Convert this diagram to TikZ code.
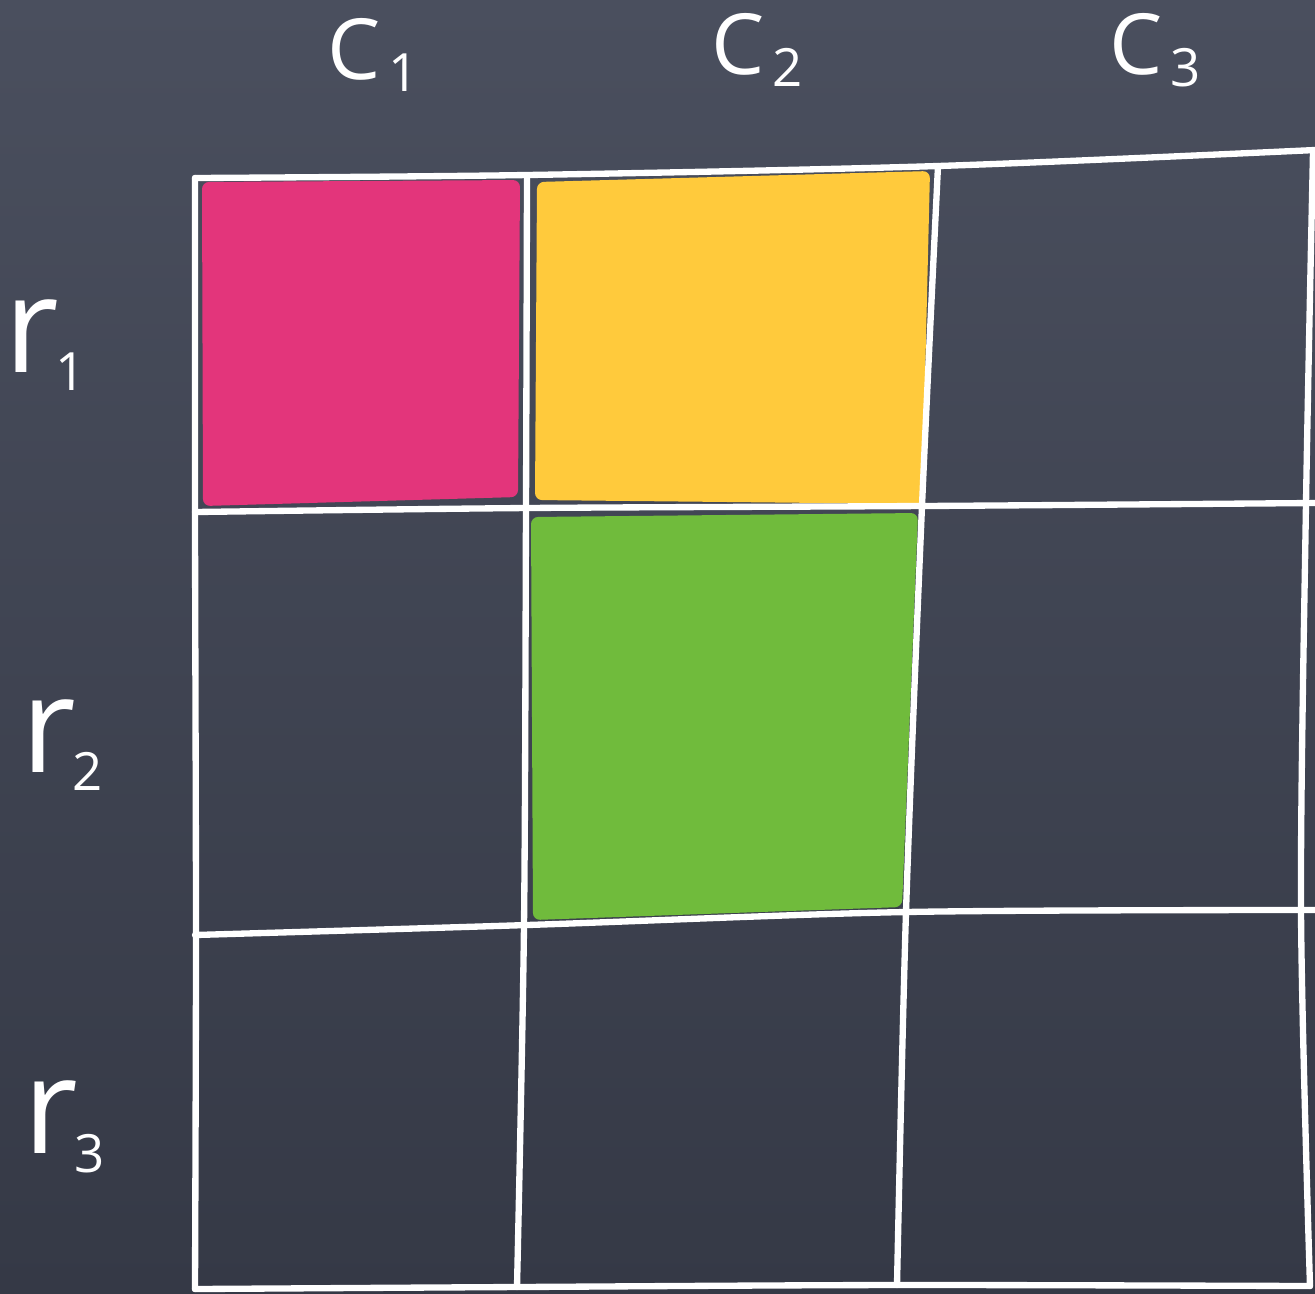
\documentclass[tikz,border=0pt]{standalone}
\usepackage{fontspec}
\setmainfont{Open Sans}
\usepackage{tikz}
\usetikzlibrary{positioning}
\definecolor{boardtop}{HTML}{4A4F5E}
\definecolor{boardbot}{HTML}{353946}
\definecolor{fillpink}{HTML}{E3357B}
\definecolor{fillyellow}{HTML}{FFCA3C}
\definecolor{fillgreen}{HTML}{70BB3C}
\tikzset{
  chalk/.style={draw=white, line width=1.8pt, line cap=round, line join=round},
  cell/.style={rounded corners=2pt},
  collbl/.style={text=white, font=\fontsize{24}{28}\selectfont, inner sep=0pt},
  rowlbl/.style={text=white, font=\fontsize{38}{42}\selectfont, inner sep=0pt},
}
\newcommand{\subl}[3]{#1\kern#3\raisebox{-0.14em}{\fontsize{15}{17}\selectfont #2}}

\begin{document}
\begin{tikzpicture}[x=0.01cm, y=-0.01cm]

\shade[top color=boardtop, bottom color=boardbot] (0,0) rectangle (1315,1293);
\useasboundingbox (0,0) rectangle (1315,1293);

% coloured cells
\fill[cell, fillpink] (202,182) -- (520,180) -- (518,497) -- (203,506) -- cycle;
\fill[cell, fillyellow] (537,182) -- (930,171) -- (922,504) -- (535,500) -- cycle;
\fill[cell, fillgreen] (531,517) -- (918,513) -- (902,907) -- (533,920) -- cycle;

% grid
\draw[chalk] plot[smooth] coordinates {(195,178) (527,175) (938,166) (1315,150)};
\draw[chalk] plot[smooth] coordinates {(195,512) (527,508) (922,506) (1315,503)};
\draw[chalk] plot[smooth] coordinates {(195,935) (527,925) (906,912) (1315,910)};
\draw[chalk] plot[smooth] coordinates {(195,1289) (517,1287) (897,1285) (1310,1286)};
\draw[chalk] plot[smooth] coordinates {(195,178) (195,512) (196,935) (195,1289)};
\draw[chalk] plot[smooth] coordinates {(527,178) (526,508) (524,925) (517,1287)};
\draw[chalk] plot[smooth] coordinates {(938,166) (922,506) (906,912) (897,1285)};
\draw[chalk] plot[smooth] coordinates {(1313,152) (1306,503) (1301,910) (1310,1286)};

% labels
\node[collbl] (c1) at (373,55) {\subl{C}{1}{2pt}};
\node[collbl] (c2) at (757,50) {\subl{C}{2}{2pt}};
\node[collbl] (c3) at (1155,50) {\subl{C}{3}{2pt}};
\node[rowlbl] (r1) at (45,345) {\subl{r}{1}{-1pt}};
\node[rowlbl] (r2) at (62,745) {\subl{r}{2}{-1pt}};
\node[rowlbl] (r3) at (64,1127) {\subl{r}{3}{-1pt}};

\end{tikzpicture}
\end{document}
